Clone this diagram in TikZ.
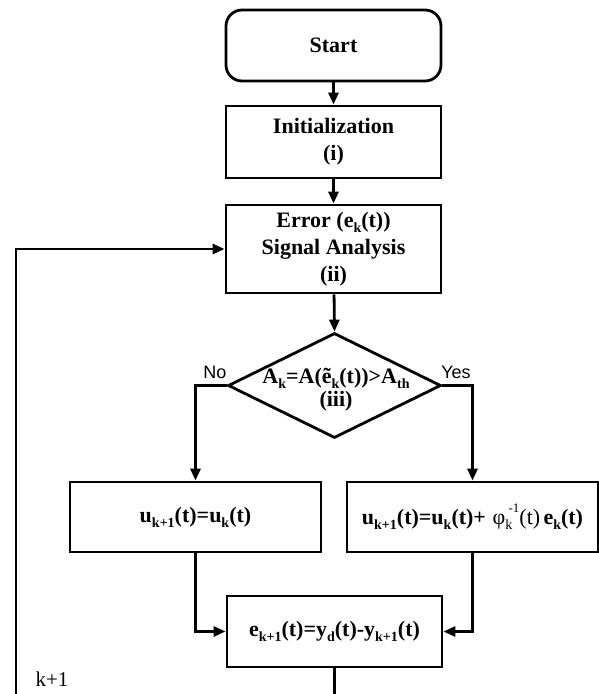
\documentclass[tikz,border=0pt]{standalone}
\usepackage{fontspec}
\setmainfont{Liberation Serif}
\newfontfamily\labsans{Liberation Sans}
\usetikzlibrary{arrows.meta,shapes.geometric}
\newcommand{\dsub}[1]{\raisebox{-0.22em}{\fontsize{14}{14}\selectfont #1}}
\newcommand{\dsup}[1]{\raisebox{0.55em}{\fontsize{13}{13}\selectfont #1}}
\begin{document}
\begin{tikzpicture}[x=1pt,y=-1pt,
  line width=2.8pt,
  box/.style={draw, rectangle, inner sep=2pt, align=center,
    font=\fontsize{22}{27}\selectfont\bfseries},
  arr/.style={-{Triangle[length=12pt,width=10pt]}},
  plain/.style={-}]
\useasboundingbox (0,0) rectangle (599,694);
\node[box, rounded corners=16pt, minimum width=215pt, minimum height=71pt] (start) at (333.5,45.5) {Start};
\node[box, minimum width=215pt, minimum height=72pt] (init) at (333.5,142) {Initialization\\(i)};
\node[box, minimum width=215pt, minimum height=88pt] (err) at (333.5,249) {Error (e\dsub{k}(t))\\Signal Analysis\\(ii)};
\node[draw, diamond, minimum width=213pt, minimum height=105pt, inner sep=0pt] (dec) at (334.5,385.5) {};
\node[align=center, inner sep=0pt, font=\fontsize{22}{23}\selectfont\bfseries] (dectext) at (336,390)
  {A\dsub{k}=A(\~e\dsub{k}(t))>A\dsub{th}\\(iii)};
\node[box, minimum width=251pt, minimum height=70pt] (left) at (195.5,517) {u\dsub{k+1}(t)=u\dsub{k}(t)};
\node[box, minimum width=251pt, minimum height=70pt, inner sep=0pt] (right) at (472.5,517)
  {u\dsub{k+1}(t)=u\dsub{k}(t)+\hspace{0.3em}{\mdseries φ\rlap{\dsub{k}}\kern0.15em\dsup{-1}(t)}\hspace{0.15em}e\dsub{k}(t)};
\node[box, minimum width=215pt, minimum height=71pt] (ebox) at (334.5,631.5) {e\dsub{k+1}(t)=y\dsub{d}(t)-y\dsub{k+1}(t)};
\node[font=\labsans\fontsize{18}{18}\selectfont, inner sep=0pt] (no) at (215,372) {No};
\node[font=\labsans\fontsize{18}{18}\selectfont, inner sep=0pt] (yes) at (456,372) {Yes};
\node[font=\fontsize{21}{21}\selectfont, inner sep=0pt] (kp) at (52,679) {k+1};
\coordinate (bot) at (334.5,694);
\coordinate (loopb) at (16,694);
\draw[arr] (start) -- (init);
\draw[arr] (init) -- (err);
\draw[arr] (err) -- (dec.north);
\draw[arr] (dec.west) -| (left.north);
\draw[arr] (dec.east) -| (right.north);
\draw[arr] (left.south) |- (ebox.west);
\draw[arr] (right.south) |- (ebox.east);
\draw[plain] (ebox.south) -- (bot);
\draw[arr] (loopb) |- (err.west);
\end{tikzpicture}
\end{document}
